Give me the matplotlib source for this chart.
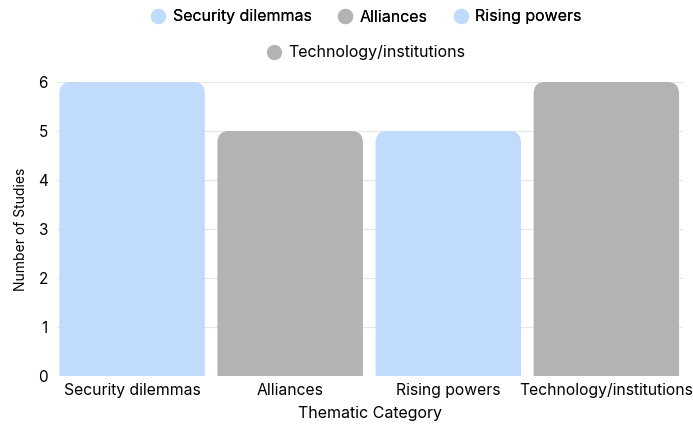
import matplotlib.pyplot as plt
from matplotlib.patches import PathPatch
from matplotlib.path import Path
from matplotlib.lines import Line2D

categories = ["Security dilemmas", "Alliances", "Rising powers", "Technology/institutions"]
counts = [6, 5, 5, 6]
colors = ["#c0dbfc", "#b3b3b3", "#c0dbfc", "#b3b3b3"]

plt.rcParams["font.family"] = ["Inter", "DejaVu Sans"]

fig = plt.figure(figsize=(6.93, 4.26), dpi=100)
ax = fig.add_axes([57 / 693, 1 - 376 / 426, 626 / 693, 294 / 426])

x = list(range(len(categories)))
rx, ry = 0.075, 0.24  # corner radius in data units (x, y)

bars = ax.bar(x, counts, width=0.92, color=colors, zorder=2)


def rounded_top(rect):
    x0, y0 = rect.get_x(), rect.get_y()
    x1, h = x0 + rect.get_width(), y0 + rect.get_height()
    verts = [(x0, y0), (x0, h - ry), (x0, h), (x0 + rx, h),
             (x1 - rx, h), (x1, h), (x1, h - ry), (x1, y0), (x0, y0)]
    codes = [Path.MOVETO, Path.LINETO, Path.CURVE3, Path.CURVE3,
             Path.LINETO, Path.CURVE3, Path.CURVE3, Path.LINETO, Path.CLOSEPOLY]
    return Path(verts, codes)


# swap the square bars for ones with rounded top corners
for b in bars:
    ax.add_patch(PathPatch(rounded_top(b), fc=b.get_facecolor(), ec="none", zorder=2))
    b.set_visible(False)

ax.set_xlim(-0.475, 3.485)
ax.set_ylim(0, 6)
ax.set_yticks(range(0, 7))
ax.set_xticks(x)
ax.set_xticklabels(categories, fontsize=11.3)
ax.tick_params(axis="y", labelsize=11, length=0, pad=6.5)
ax.tick_params(axis="x", length=0, pad=5)
ax.yaxis.grid(True, color="#e6e6e6", linewidth=0.8, zorder=0)
ax.set_axisbelow(True)
for s in ax.spines.values():
    s.set_visible(False)

ax.set_xlabel("Thematic Category", fontsize=11.5, labelpad=6)
ax.set_ylabel("Number of Studies", fontsize=10, labelpad=7)


def handle(col):
    return Line2D([], [], marker="o", linestyle="none", markersize=11,
                  markerfacecolor=col, markeredgecolor="none")


leg_x = 366 / 693
leg1 = fig.legend([handle(c) for c in colors[:3]], categories[:3], loc="center",
                  bbox_to_anchor=(leg_x, 1 - 17 / 426), ncol=3, frameon=False,
                  fontsize=11.5, handletextpad=0.4, columnspacing=1.6, handlelength=1.0)
leg2 = fig.legend([handle(colors[3])], categories[3:], loc="center",
                  bbox_to_anchor=(leg_x, 1 - 53 / 426), frameon=False,
                  fontsize=11.5, handletextpad=0.4, handlelength=1.0)
fig.add_artist(leg1)

fig.savefig("out.png", dpi=100)
